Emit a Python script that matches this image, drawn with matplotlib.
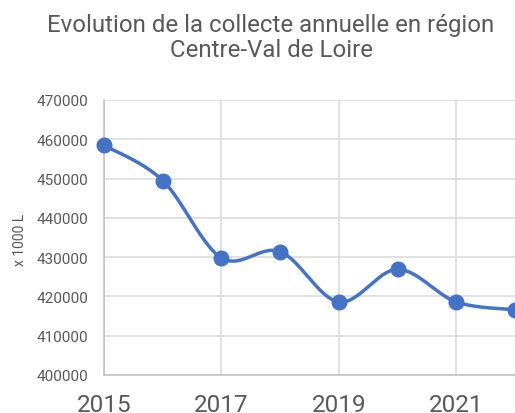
import numpy as np
import matplotlib
matplotlib.use("Agg")
import matplotlib.pyplot as plt

plt.rcParams['font.family'] = ['Roboto', 'DejaVu Sans']

# data
years = [2015, 2016, 2017, 2018, 2019, 2020, 2021, 2022]
collecte = [458500, 449500, 429800, 431400, 418600, 426900, 418600, 416600]
year_ticks = [2015, 2017, 2019, 2021]
y_ticks = [400000, 410000, 420000, 430000, 440000, 450000, 460000, 470000]

title = "Evolution de la collecte annuelle en région\nCentre-Val de Loire"
ylabel = "x 1000 L"


def smooth_curve(x, y, n=40, tension=1/6.0):
    # excel-ish smoothed line: cubic bezier segments with catmull-rom handles
    x = np.asarray(x, float)
    y = np.asarray(y, float)
    px, py = [], []
    for i in range(len(x) - 1):
        i0 = max(i - 1, 0)
        i3 = min(i + 2, len(x) - 1)
        c1x = x[i] + (x[i + 1] - x[i0]) * tension
        c1y = y[i] + (y[i + 1] - y[i0]) * tension
        c2x = x[i + 1] - (x[i3] - x[i]) * tension
        c2y = y[i + 1] - (y[i3] - y[i]) * tension
        t = np.linspace(0, 1, n)
        bx = (1-t)**3*x[i] + 3*(1-t)**2*t*c1x + 3*(1-t)*t**2*c2x + t**3*x[i+1]
        by = (1-t)**3*y[i] + 3*(1-t)**2*t*c1y + 3*(1-t)*t**2*c2y + t**3*y[i+1]
        px.extend(bx)
        py.extend(by)
    return np.array(px), np.array(py)


fig = plt.figure(figsize=(5.15, 4.14), dpi=100)
ax = fig.add_axes([104/515, 1 - 376/414, (515 - 104)/515, 275/414])

blue = "#4472C4"
txt = "#595959"

sx, sy = smooth_curve(years, collecte)
ax.plot(sx, sy, color=blue, lw=2.5, solid_capstyle="round", zorder=3, clip_on=False)
ax.plot(years, collecte, "o", color=blue, ms=10.5, zorder=4, clip_on=False)

ax.set_xlim(2015, 2022)
ax.set_ylim(400000, 470000)
ax.set_xticks(year_ticks)
ax.set_yticks(y_ticks)
ax.set_yticklabels([str(v) for v in y_ticks])

ax.grid(True, color="#d9d9d9", lw=1.1)
ax.set_axisbelow(True)
for s in ["top", "right"]:
    ax.spines[s].set_visible(False)
ax.spines["left"].set_color("#bfbfbf")
ax.spines["bottom"].set_color("#bfbfbf")
ax.spines["left"].set_linewidth(1.1)
ax.spines["bottom"].set_linewidth(1.1)

ax.tick_params(axis="both", length=0)
ax.tick_params(axis="y", labelsize=11, labelcolor=txt, pad=11.5)
ax.tick_params(axis="x", labelsize=17.5, labelcolor=txt, pad=13)

fig.text(20/515, 1 - 240/414, ylabel, rotation=90, fontsize=10, color=txt,
         ha="center", va="center")
fig.text(271/515, 1 - 38/414, title, fontsize=17.3, color=txt,
         ha="center", va="center", linespacing=1.15)

fig.savefig("out.png", dpi=100)
